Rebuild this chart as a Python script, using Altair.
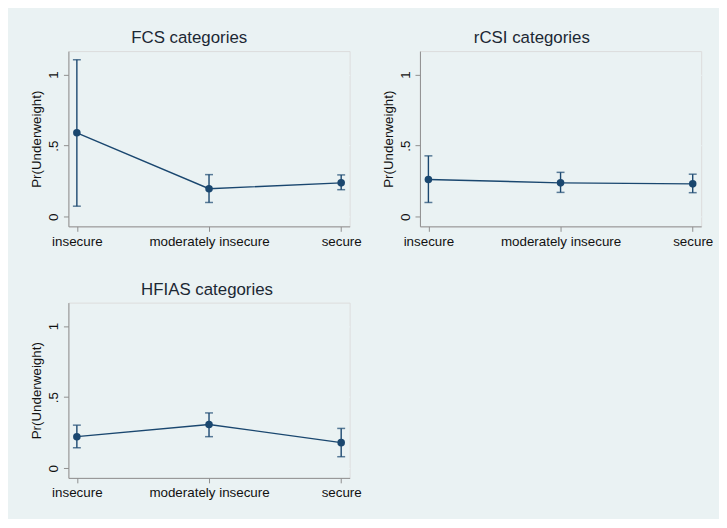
import altair as alt
import pandas as pd

categories = ["insecure", "moderately insecure", "secure"]

fcs_est = [0.59, 0.197, 0.238]
fcs_lo = [0.074, 0.100, 0.190]
fcs_hi = [1.104, 0.296, 0.294]

rcsi_est = [0.262, 0.238, 0.231]
rcsi_lo = [0.100, 0.171, 0.169]
rcsi_hi = [0.428, 0.312, 0.299]

hfias_est = [0.222, 0.308, 0.180]
hfias_lo = [0.144, 0.222, 0.081]
hfias_hi = [0.303, 0.389, 0.280]

titles = ["FCS categories", "rCSI categories", "HFIAS categories"]
title_dx = [-20, -29, -2]

NAVY = "#1a476f"
BG = "#eaf2f3"
FONT = "Liberation Sans"


def panel(title, dx, est, lo, hi):
    df = pd.DataFrame({"cat": categories, "est": est, "lo": lo, "hi": hi})
    xenc = alt.X("cat:N", sort=categories, title=None,
                 scale=alt.Scale(type="point", padding=0.064),
                 axis=alt.Axis(labelAngle=0, tickSize=5, labelPadding=3,
                               domainColor="#8f8f8f", tickColor="#8f8f8f",
                               labelFontSize=13.5, labelColor="#111111", grid=False))
    yscale = alt.Scale(domain=[-0.068, 1.165], nice=False, zero=False)
    yaxis = alt.Axis(values=[0, 0.5, 1], labelExpr="datum.value == 0 ? '0' : datum.value == 0.5 ? '.5' : '1'",
                     labelAngle=270, labelAlign="center", labelBaseline="bottom",
                     tickSize=5, labelPadding=3, titlePadding=3,
                     domainColor="#8f8f8f", tickColor="#8f8f8f",
                     gridColor=BG, gridWidth=1.2, grid=True,
                     labelFontSize=13.5, titleFontSize=13.5, titleFontWeight="normal",
                     labelColor="#111111", titleColor="#111111")
    base = alt.Chart(df)
    rules = base.mark_rule(color=NAVY, strokeWidth=1.4).encode(
        x=xenc, y=alt.Y("lo:Q", scale=yscale, axis=yaxis, title="Pr(Underweight)"), y2="hi:Q")
    cap_lo = base.mark_tick(color=NAVY, size=8, thickness=1.5).encode(x=xenc, y=alt.Y("lo:Q", scale=yscale))
    cap_hi = base.mark_tick(color=NAVY, size=8, thickness=1.5).encode(x=xenc, y=alt.Y("hi:Q", scale=yscale))
    line = base.mark_line(color=NAVY, strokeWidth=1.4).encode(x=xenc, y=alt.Y("est:Q", scale=yscale))
    pts = base.mark_point(color=NAVY, filled=True, size=58, opacity=1).encode(x=xenc, y=alt.Y("est:Q", scale=yscale))
    return alt.layer(rules, cap_lo, cap_hi, line, pts).properties(
        width=284, height=177,
        title=alt.TitleParams(title, fontSize=17, font=FONT, fontWeight="normal",
                              color="#1c2833", offset=4, anchor="middle", dx=dx))


p1 = panel(titles[0], title_dx[0], fcs_est, fcs_lo, fcs_hi)
p2 = panel(titles[1], title_dx[1], rcsi_est, rcsi_lo, rcsi_hi)
p3 = panel(titles[2], title_dx[2], hfias_est, hfias_lo, hfias_hi)

chart = alt.vconcat(
    alt.hconcat(p1, p2, spacing=18),
    p3,
    spacing=32,
).properties(
    background=BG,
    padding={"left": 21, "top": 18, "right": 5, "bottom": 17},
).configure_view(
    stroke=None, fill="white"
).configure(font=FONT)

chart.save("out.html", embed_options={"renderer": "svg", "actions": False})
